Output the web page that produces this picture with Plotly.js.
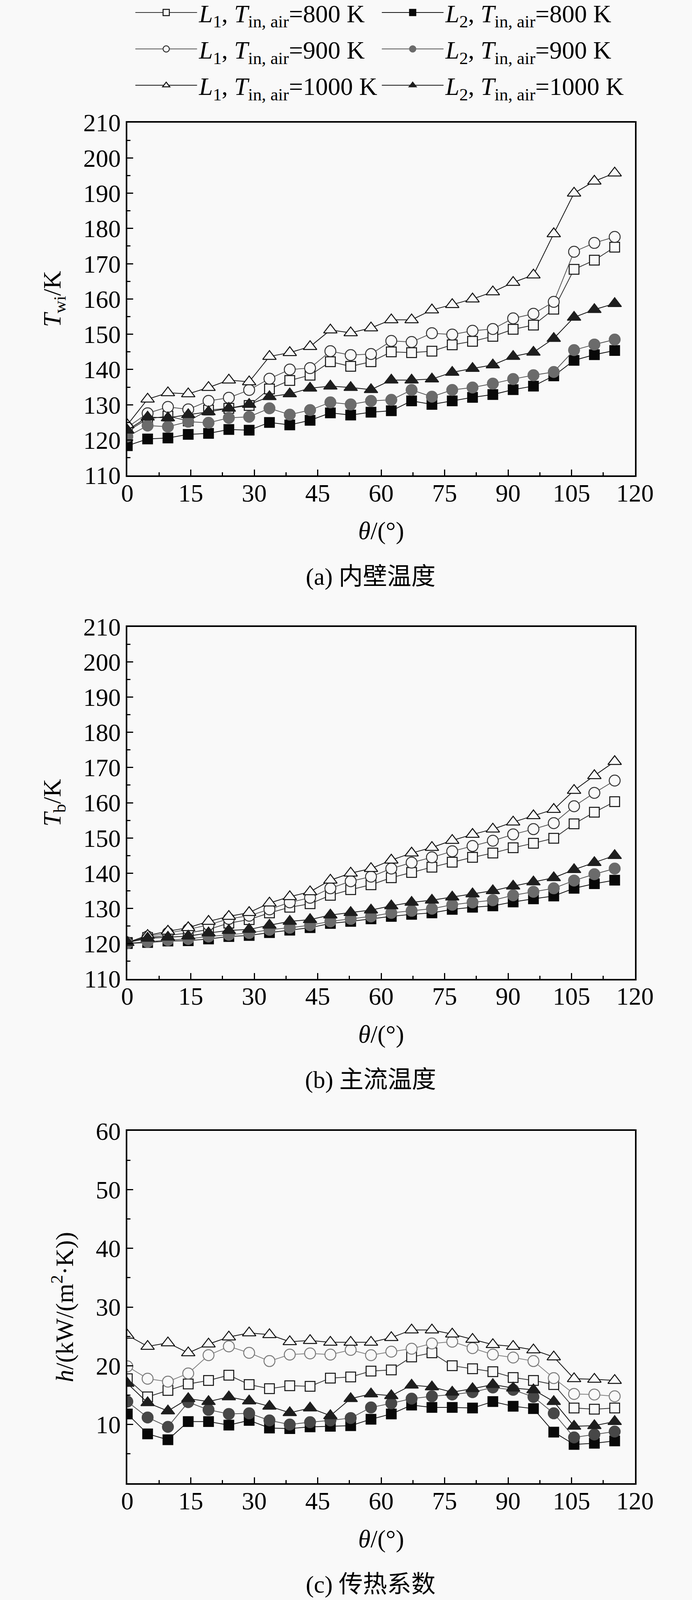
<!DOCTYPE html>
<html><head><meta charset="utf-8">
<script src="https://cdn.plot.ly/plotly-3.0.1.min.js"></script>
<style>html,body{margin:0;padding:0;background:#f9f9f9;overflow:hidden}</style>
</head><body>
<div id="chart"></div>
<script>
// ---------- data ----------
const theta = [0,4.8,9.6,14.4,19.2,24,28.8,33.6,38.4,43.2,48,52.8,57.6,62.4,67.2,72,76.8,81.6,86.4,91.2,96,100.8,105.6,110.4,115.2];

// (a) inner wall temperature T_wi / K
const a_L1_800  = [122.5,126.0,126.8,125.4,128.5,129.0,129.8,134.5,136.9,138.4,142.2,140.9,142.2,145.0,144.8,145.2,147.0,148.0,149.4,151.4,152.6,157.1,168.4,171.0,174.7];
const a_L1_900  = [123.6,127.6,129.4,128.7,131.1,132.0,134.2,137.4,140.0,140.4,145.2,144.1,144.4,148.1,147.8,150.3,149.9,151.0,151.5,154.5,155.8,159.2,173.4,175.9,177.6];
const a_L1_1000 = [124.3,131.6,133.4,133.1,134.9,137.0,136.5,143.7,144.8,146.5,151.2,150.4,151.8,154.1,154.1,156.9,158.4,160.0,162.0,164.7,166.8,178.5,190.0,193.4,195.7];
const a_L2_800  = [118.4,120.3,120.6,121.6,121.9,123.0,122.8,125.0,124.3,125.6,127.7,127.1,127.9,128.3,131.1,130.1,131.1,132.1,132.9,134.3,135.3,138.2,142.6,144.2,145.4];
const a_L2_900  = [121.0,124.1,123.8,125.2,124.9,126.3,126.6,129.0,127.2,128.5,130.7,130.1,131.1,131.4,134.2,132.3,134.2,134.9,136.0,137.3,138.4,139.3,145.5,147.1,148.5];
const a_L2_1000 = [122.8,126.5,126.3,127.2,128.0,129.0,130.1,132.3,133.1,134.7,135.3,134.9,134.3,137.0,137.0,137.3,139.2,140.3,141.3,143.7,144.9,148.8,154.8,157.0,158.7];

// (b) bulk temperature T_b / K
const b_L1_800  = [120.3,121.7,122.3,123.0,124.0,125.8,126.8,128.7,130.3,131.3,133.7,135.3,136.7,138.7,140.2,141.7,143.1,144.5,145.7,147.2,148.5,149.9,154.0,157.3,160.3];
const b_L1_900  = [120.3,122.0,123.0,124.0,125.3,127.0,127.9,129.7,131.7,133.0,135.7,137.7,139.0,141.3,143.0,144.5,146.2,147.7,149.2,151.0,152.5,154.2,159.0,162.8,166.3];
const b_L1_1000 = [120.3,122.3,123.5,124.5,126.3,127.7,128.8,131.5,133.3,134.7,138.0,140.0,141.3,143.7,145.7,147.3,149.3,151.0,152.5,154.5,156.3,158.1,163.5,167.7,171.7];
const b_L2_800  = [120.0,120.3,120.7,120.8,121.3,122.0,122.3,123.1,123.8,124.5,125.7,126.3,127.0,127.7,128.3,128.7,129.7,130.3,130.7,131.8,132.7,133.5,135.7,137.0,138.0];
const b_L2_900  = [120.1,120.5,121.0,121.3,122.0,122.5,123.0,123.9,124.5,125.2,126.3,127.0,127.7,128.7,129.3,129.9,131.0,131.7,132.3,133.7,134.7,135.7,137.9,139.7,141.3];
const b_L2_1000 = [120.3,121.5,121.8,122.1,123.0,123.7,124.0,125.2,126.3,126.8,128.1,128.8,129.5,130.7,131.7,132.3,133.2,134.1,135.0,136.3,137.5,138.7,141.0,143.0,145.0];

// (c) heat transfer coefficient h / (kW/(m2.K))
const c_L1_800  = [17.8,14.7,15.8,16.9,17.5,18.4,16.8,16.1,16.6,16.5,17.9,18.1,19.1,19.3,21.5,22.2,20.0,19.5,19.0,18.0,17.5,16.8,12.8,12.6,12.8];
const c_L1_900  = [19.9,17.8,17.3,18.7,21.8,23.3,22.2,20.8,21.9,22.1,21.9,22.7,21.8,22.4,22.9,23.8,24.1,23.0,21.9,21.4,20.8,17.9,15.2,15.1,14.8];
const c_L1_1000 = [25.2,23.3,23.9,22.2,23.7,24.9,25.6,25.3,24.1,24.3,24.0,24.0,24.0,24.8,26.1,26.1,25.4,24.5,23.6,23.3,22.7,21.5,17.8,17.7,17.5];
const c_L2_800  = [11.8,8.4,7.4,10.5,10.5,9.9,10.7,9.4,9.3,9.6,9.7,9.8,10.9,11.8,13.3,12.9,12.9,12.8,13.9,13.1,12.7,8.7,6.6,6.8,7.2];
const c_L2_900  = [13.9,11.2,9.6,13.8,12.5,11.8,11.9,10.7,10.0,10.4,10.7,11.1,12.9,13.6,14.4,14.8,15.1,15.5,16.3,15.9,14.7,11.9,7.8,8.3,8.8];
const c_L2_1000 = [17.0,13.7,12.3,14.4,13.9,14.7,14.0,13.1,12.0,12.8,11.5,14.4,15.2,14.9,16.7,16.4,15.5,16.1,16.8,16.2,15.9,13.9,9.7,9.8,10.5];

const seriesNames = [
  '<i>L</i><sub>1</sub>, <i>T</i><sub>in, air</sub>=800 K',
  '<i>L</i><sub>1</sub>, <i>T</i><sub>in, air</sub>=900 K',
  '<i>L</i><sub>1</sub>, <i>T</i><sub>in, air</sub>=1000 K',
  '<i>L</i><sub>2</sub>, <i>T</i><sub>in, air</sub>=800 K',
  '<i>L</i><sub>2</sub>, <i>T</i><sub>in, air</sub>=900 K',
  '<i>L</i><sub>2</sub>, <i>T</i><sub>in, air</sub>=1000 K'
];
const xTickVals = [0,15,30,45,60,75,90,105,120];
const captions = ['(a) 内壁温度', '(b) 主流温度', '(c) 传热系数'];
const yTitles = ['<i>T</i><sub>wi</sub>/K', '<i>T</i><sub>b</sub>/K', '<i>h</i>/(kW/(m<sup>2</sup>·K))'];
const xTitle = '<i>θ</i>/(°)';

// ---------- styling ----------
const BG = '#f9f9f9';
const FONT = 'Liberation Serif, Times New Roman, serif';
const CJK = 'Liberation Serif, Noto Sans CJK SC, serif';

// page height actually available (reference is 1772 x 4342)
const W = 1772;
const H = Math.min(window.innerHeight || 4342, 4342);
const sy = H / 4342;
document.getElementById('chart').style.width = W + 'px';
document.getElementById('chart').style.height = H + 'px';

function styles(panel) {
  const grey = panel === 2 ? '#474747' : '#6b6b6b';
  const openCircle = panel === 2 ? '#7a7a7a' : '#333333';
  return [
    {symbol:'square', size:25, fill:BG, edge:'#111', line:'#333'},
    {symbol:'circle', size:28, fill:BG, edge:openCircle, line: panel === 2 ? '#808080' : '#555'},
    {symbol:'triangle-up', size:30, fill:BG, edge:'#111', line:'#111'},
    {symbol:'square', size:25, fill:'#080808', edge:'#080808', line:'#111'},
    {symbol:'circle', size:28, fill:grey, edge:grey, line:'#555'},
    {symbol:'triangle-up', size:30, fill:'#1e1e1e', edge:'#1e1e1e', line:'#111'}
  ];
}

const panels = [
  [a_L1_800, a_L1_900, a_L1_1000, a_L2_800, a_L2_900, a_L2_1000],
  [b_L1_800, b_L1_900, b_L1_1000, b_L2_800, b_L2_900, b_L2_1000],
  [c_L1_800, c_L1_900, c_L1_1000, c_L2_800, c_L2_900, c_L2_1000]
];

const data = [];
panels.forEach((series, p) => {
  const st = styles(p);
  series.forEach((ys, i) => {
    data.push({
      type:'scatter', mode:'lines+markers',
      x: theta, y: ys,
      xaxis: p === 0 ? 'x' : 'x' + (p + 1),
      yaxis: p === 0 ? 'y' : 'y' + (p + 1),
      name: seriesNames[i],
      showlegend: p === 0,
      legend: i < 3 ? 'legend' : 'legend2',
      legendgroup: 'g' + i,
      line: {color: st[i].line, width: 2},
      marker: {symbol: st[i].symbol, size: st[i].size, color: st[i].fill,
               line: {color: st[i].edge, width: 2.5}}
    });
  });
});

// plot region: x 326..1626, y 333..4025 (reference pixels)
const domains = [[0.74079, 1.0], [0.37080, 0.62947], [0.0, 0.25894]];
const yRanges = [[110, 210], [110, 210], [0, 60]];

function xAxis(p) {
  return {
    domain: [0, 1], anchor: p === 0 ? 'y' : 'y' + (p + 1),
    range: [0, 120], tickmode: 'array', tickvals: xTickVals,
    ticks: 'inside', ticklen: 15, tickwidth: 3, tickcolor: '#000',
    ticklabelstandoff: -14,
    minor: {ticks: 'inside', ticklen: 8, tickwidth: 3, tickcolor: '#000', tickmode: 'linear', tick0: 0, dtick: 7.5},
    showline: true, linewidth: 4, linecolor: '#000', mirror: true,
    showgrid: false, zeroline: false,
    tickfont: {family: FONT, size: 64, color: '#000'},
    title: {text: xTitle, font: {family: FONT, size: 64, color: '#000'}, standoff: 40},
    automargin: false
  };
}
function yAxis(p) {
  const isC = p === 2;
  return {
    domain: domains[p], anchor: p === 0 ? 'x' : 'x' + (p + 1),
    range: yRanges[p],
    tickmode: 'array',
    tickvals: isC ? [10,20,30,40,50,60] : [110,120,130,140,150,160,170,180,190,200,210],
    ticktext: isC ? ['10','20','30','40','50','60'] : ['110','120','130','140','150','160','170','180','190','200','210'],
    ticks: 'inside', ticklen: 15, tickwidth: 3, tickcolor: '#000',
    minor: {ticks: 'inside', ticklen: 8, tickwidth: 3, tickcolor: '#000', tickmode: 'linear', tick0: 0, dtick: 5},
    showline: true, linewidth: 4, linecolor: '#000', mirror: true,
    showgrid: false, zeroline: false,
    tickfont: {family: FONT, size: 64, color: '#000'},
    title: {text: yTitles[p], font: {family: FONT, size: 64, color: '#000'}, standoff: 38},
    automargin: false
  };
}

const capY = [0.66631, 0.29632, -0.07449];
const annotations = captions.map((t, p) => ({
  text: t, xref: 'paper', yref: 'paper', x: 0.4792, y: capY[p],
  xanchor: 'center', yanchor: 'middle', showarrow: false,
  font: {family: CJK, size: 62, color: '#000'}
}));

// legend top placed so that its first row sits ~33 px (reference) from the top
const legendTopPaper = 1 + (300 * sy + 47) / (3692 * sy);
const legendBase = {
  orientation: 'v', yanchor: 'top', y: legendTopPaper, xanchor: 'left',
  bgcolor: 'rgba(0,0,0,0)', borderwidth: 0,
  font: {family: FONT, size: 64, color: '#000'},
  itemwidth: 158, traceorder: 'grouped', tracegroupgap: Math.max(0, 100 * sy - 87.4), itemsizing: 'trace'
};

const layout = {
  width: W, height: H,
  margin: {l: 326, r: 146, t: 333 * sy, b: 317 * sy, autoexpand: false},
  paper_bgcolor: BG, plot_bgcolor: BG,
  showlegend: true,
  legend: Object.assign({}, legendBase, {x: 0.012}),
  legend2: Object.assign({}, legendBase, {x: 0.4975}),
  xaxis: xAxis(0), xaxis2: xAxis(1), xaxis3: xAxis(2),
  yaxis: yAxis(0), yaxis2: yAxis(1), yaxis3: yAxis(2),
  annotations: annotations
};

Plotly.newPlot('chart', data, layout, {staticPlot: true, displayModeBar: false});
</script>
</body></html>
